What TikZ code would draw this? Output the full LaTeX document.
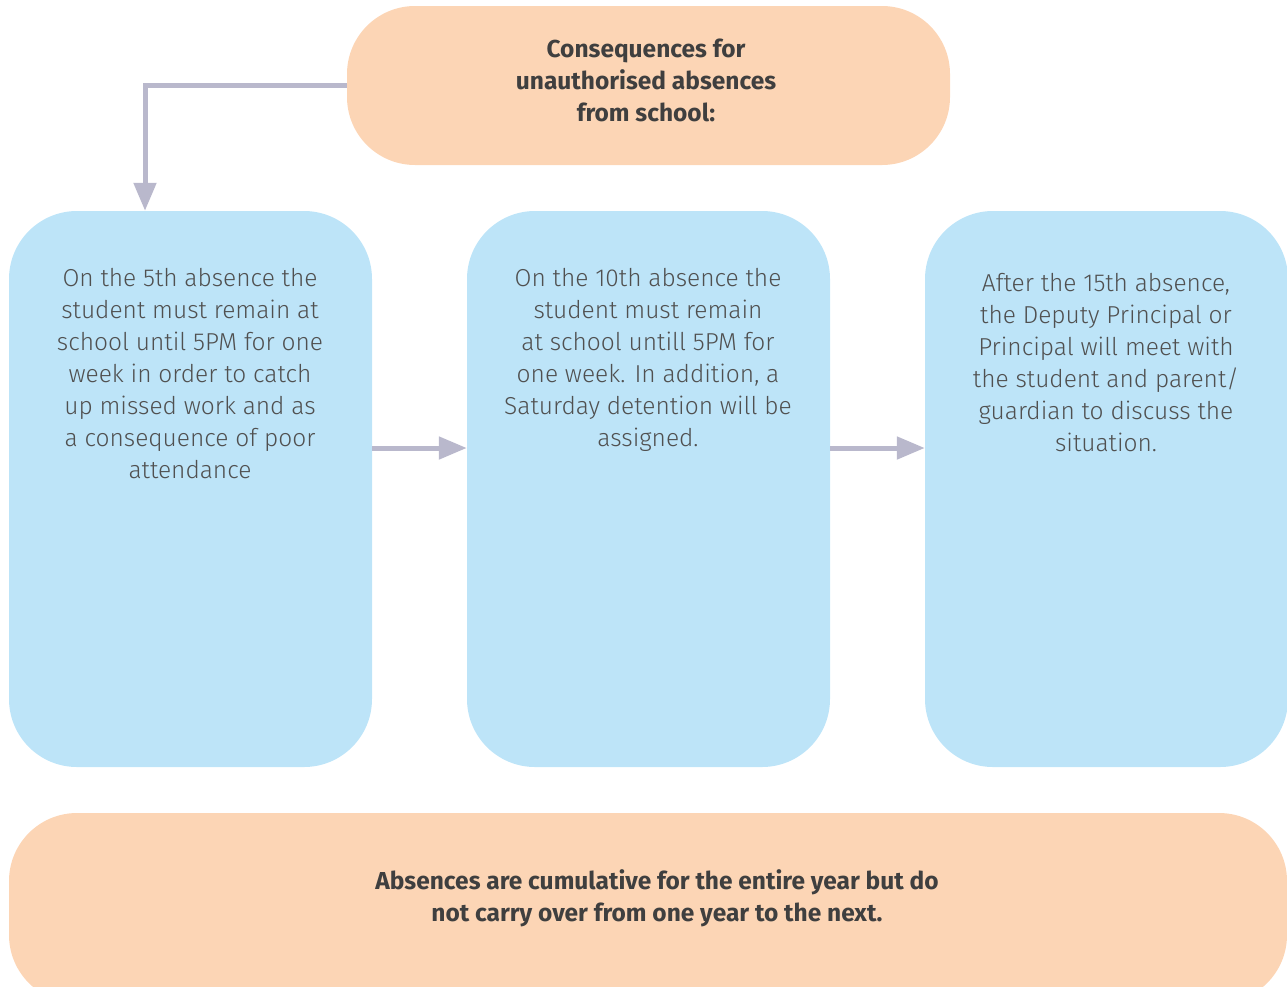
\documentclass[tikz,border=0pt]{standalone}
\usepackage{fontspec}
\setmainfont{Fira Sans}
\newfontfamily\lightfont{Fira Sans Light}
\usetikzlibrary{arrows.meta}
\definecolor{peach}{HTML}{FCD5B5}
\definecolor{skyb}{HTML}{BDE4F8}
\definecolor{arrowc}{HTML}{B9B8CC}
\definecolor{txt}{HTML}{3F3F3F}
\definecolor{ltxt}{HTML}{505050}
\tikzset{
  x=1pt,y=-1pt,
  peachbox/.style={fill=peach,draw=none,rounded corners=68pt,rectangle,inner sep=0pt},
  bluebox/.style={fill=skyb,draw=none,rounded corners=68pt,rectangle,inner sep=0pt},
  boldtxt/.style={font=\fontsize{24.5}{32}\selectfont\bfseries,text=txt,align=center},
  bodytxt/.style={font=\lightfont\fontsize{24.5}{32}\selectfont,text=ltxt,align=center,anchor=north},
  conn/.style={draw=arrowc,line width=5pt,-{Triangle[length=28pt,width=22pt]}}
}
\begin{document}
\begin{tikzpicture}
\useasboundingbox (0,0) rectangle (1287,986);
\clip (0,0) rectangle (1287,986);
\node[peachbox,minimum width=603pt,minimum height=159pt] (top) at (648.5,85.5) {};
\node[bluebox,minimum width=363pt,minimum height=556pt] (b1) at (190.5,489) {};
\node[bluebox,minimum width=363pt,minimum height=556pt] (b2) at (648.5,489) {};
\node[bluebox,minimum width=363pt,minimum height=556pt] (b3) at (1106.5,489) {};
\node[peachbox,minimum width=1278pt,minimum height=190pt] (bot) at (648,908) {};
\node[boldtxt] (toptext) at (646,80) {Consequences for\\unauthorised absences\\from school:};
\node[bodytxt] (t1) at (190,265) {On the 5th absence the\\student must remain at\\school until 5PM for one\\week in order to catch\\up missed work and as\\a consequence of poor\\attendance};
\node[bodytxt] (t2) at (648,265) {On the 10th absence the\\student must remain\\at school untill 5PM for\\one week. In addition, a\\Saturday detention will be\\assigned.};
\node[bodytxt] (t3) at (1106,270) {After the 15th absence,\\the Deputy Principal or\\Principal will meet with\\the student and parent/\\guardian to discuss the\\situation.};
\node[boldtxt] (bottext) at (657,898) {Absences are cumulative for the entire year but do\\not carry over from one year to the next.};
\coordinate (bend) at (145,85);
\draw[conn] (top.west |- bend) -- (bend) -- (b1.north -| bend);
\draw[conn] (b1.east |- 0,448) -- (b2.west |- 0,448);
\draw[conn] (b2.east |- 0,448) -- (b3.west |- 0,448);
\end{tikzpicture}
\end{document}
